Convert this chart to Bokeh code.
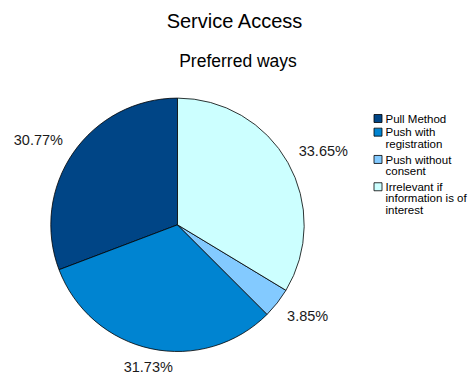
import math
from bokeh.plotting import figure
from bokeh.models import Range1d, ColumnDataSource
from bokeh.core.properties import value
from bokeh.embed import file_html
from bokeh.resources import INLINE

# ---- data ----
title = "Service Access"
subtitle = "Preferred ways"
categories = ["Pull Method", "Push with registration", "Push without consent",
              "Irrelevant if information is of interest"]
legend_lines = [["Pull Method"], ["Push with", "registration"], ["Push without", "consent"],
                ["Irrelevant if", "information is of", "interest"]]
percents = [30.77, 31.73, 3.85, 33.65]
colors = ["#004586", "#0084d1", "#83caff", "#ccffff"]

W, H = 469, 376
FONT = "Liberation Sans"

p = figure(width=W, height=H, output_backend="svg", toolbar_location=None,
           x_range=Range1d(0, W), y_range=Range1d(0, H),
           min_border=0, min_border_left=0, min_border_right=0,
           min_border_top=0, min_border_bottom=0)
p.xaxis.visible = False
p.yaxis.visible = False
p.grid.visible = False
p.outline_line_color = None
p.background_fill_color = "white"
p.border_fill_color = "white"

# ---- pie ----
cx, cy, R = 177, H - 224.3, 126.7
total = sum(percents)
starts, ends, mids = [], [], []
a = math.pi / 2
for v in percents:
    span = 2 * math.pi * v / total
    starts.append(a)
    ends.append(a + span)
    mids.append(a + span / 2)
    a += span

src = ColumnDataSource(dict(start=starts, end=ends, color=colors))
p.wedge(x=cx, y=cy, radius=R, radius_units="screen", start_angle="start", end_angle="end",
        fill_color="color", line_color="black", line_width=0.8, source=src)

# ---- percentage labels (anchored just outside the rim, aligned by quadrant) ----
fs = 14.5
ink_h = 11.6
ra = R + 12.5
for v, m in zip(percents, mids):
    txt = f"{v:.2f}%"
    ux, uy = math.cos(m), math.sin(m)
    ax, ay = cx + ra * ux, cy + ra * uy
    if abs(ux) < 0.3:
        align = "center"
    elif ux > 0:
        align = "left"
    else:
        align = "right"
    yc = ay + (ink_h / 2 if uy > 0 else -ink_h / 2)
    p.text(x=[ax], y=[yc], text=[txt], text_font=value(FONT), text_font_size=f"{fs}px",
           text_align=align, text_baseline="middle", text_color="#1a1a1a")

# ---- titles ----
p.text(x=[W / 2], y=[H - 20], text=[title], text_font=value(FONT), text_font_size="20px",
       text_align="center", text_baseline="middle", text_color="black")
p.text(x=[W / 2 + 3], y=[H - 60], text=[subtitle], text_font=value(FONT), text_font_size="17.5px",
       text_align="center", text_baseline="middle", text_color="black")

# ---- legend ----
sq_x, sq_top, sq = 373.5, 114, 8
pitch, line_h = 13.65, 11.3
rx, ry, rc = [], [], []
tx, ty, tt = [], [], []
top = sq_top
for lines, c in zip(legend_lines, colors):
    rx.append(sq_x + sq / 2)
    ry.append(H - (top + sq / 2))
    rc.append(c)
    for j, ln in enumerate(lines):
        tx.append(385)
        ty.append(H - (top + 4.3 + j * line_h))
        tt.append(ln)
    top += pitch * len(lines)
p.rect(x=rx, y=ry, width=sq, height=sq, width_units="screen", height_units="screen",
       fill_color=rc, line_color="black", line_width=0.8)
p.text(x=tx, y=ty, text=tt, text_font=value(FONT), text_font_size="11.5px",
       text_align="left", text_baseline="middle", text_color="black")

open("out.html", "w").write(file_html(p, INLINE))
